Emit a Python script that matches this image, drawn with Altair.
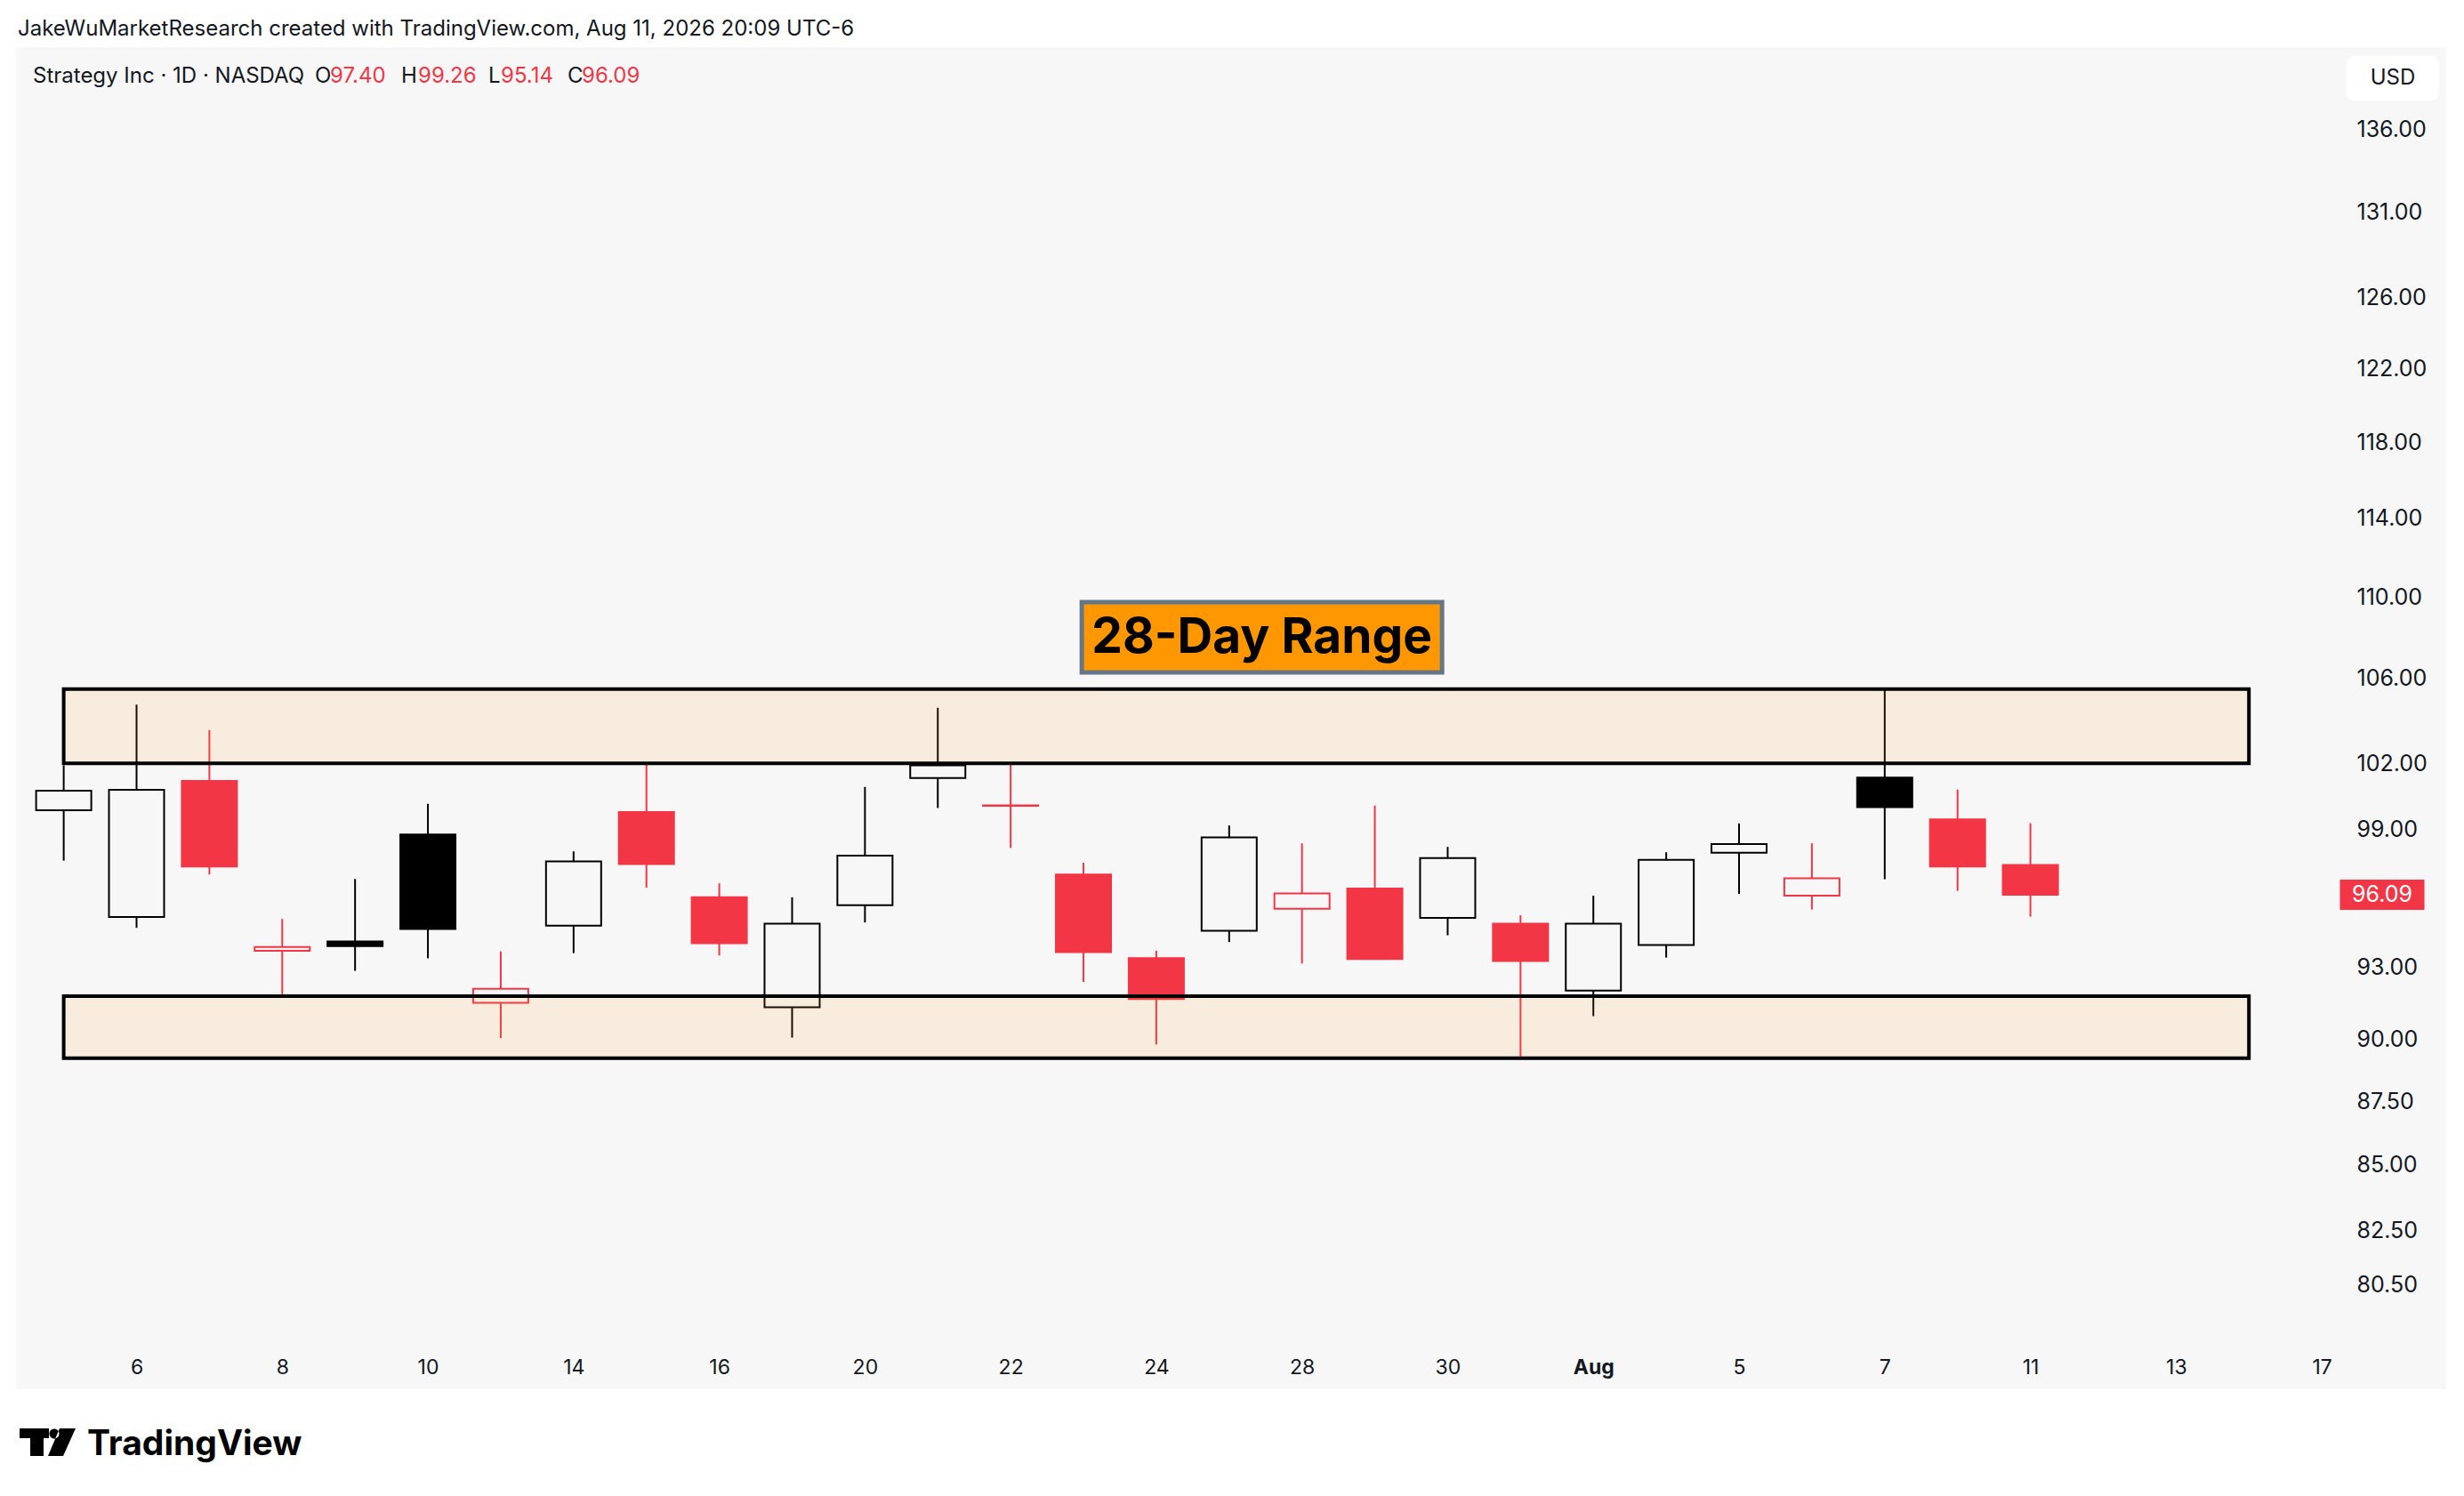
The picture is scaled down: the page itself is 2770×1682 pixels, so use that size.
import json
import altair as alt
import pandas as pd

# ---------------- data ----------------
day_labels = ["3", "6", "7", "8", "9", "10", "13", "14", "15", "16", "17", "20", "21", "22",
              "23", "24", "27", "28", "29", "30", "31", "Aug", "4", "5", "6", "7", "10", "11",
              "12", "13", "14", "17"]
opens = [99.85, 95.13, 101.19, 93.68, 94.08, 98.76, 91.49, 94.75, 99.77, 95.98, 91.31, 95.64,
         101.32, 100.07, 96.98, 93.37, 94.53, 95.48, 96.36, 95.09, 94.84, 92.00, 93.92, 97.94,
         96.05, 101.34, 99.44, 97.40]
highs = [101.90, 104.75, 103.55, 95.04, 96.78, 100.14, 93.65, 98.00, 101.96, 96.59, 95.98, 100.91,
         104.60, 101.96, 97.50, 93.68, 99.16, 98.36, 100.06, 98.20, 95.20, 96.05, 97.96, 99.25,
         98.36, 105.49, 100.79, 99.26]
lows = [97.59, 94.66, 96.98, 91.80, 92.83, 93.36, 90.04, 93.58, 96.40, 93.48, 90.06, 94.89,
        99.95, 98.16, 92.36, 89.78, 94.05, 93.14, 93.30, 94.34, 89.24, 90.94, 93.39, 96.13,
        95.45, 96.77, 96.26, 95.14]
closes = [100.74, 100.78, 97.33, 93.84, 93.88, 94.61, 92.08, 97.56, 97.44, 94.00, 94.84, 97.81,
          101.90, 100.05, 93.62, 91.65, 98.63, 96.15, 93.33, 97.70, 93.24, 94.84, 97.63, 98.33,
          96.81, 99.99, 97.33, 96.09]

x_tick_idx = [1, 3, 5, 7, 9, 11, 13, 15, 17, 19, 21, 23, 25, 27, 29, 31]
y_ticks = [80.5, 82.5, 85, 87.5, 90, 93, 99, 102, 106, 110, 114, 118, 122, 126, 131, 136]

zone_start = [0, 0]
zone_end = [30, 30]
zone_low = [89.22, 102.00]
zone_high = [91.77, 105.49]

title_text = "28-Day Range"
title_pos = [16.45]
title_price = [108.0]

header = "JakeWuMarketResearch created with TradingView.com, Aug 11, 2026 20:09 UTC-6"
symbol_text = "Strategy Inc · 1D · NASDAQ"
ohlc_keys = ["O", "H", "L", "C"]
ohlc_vals = ["97.40", "99.26", "95.14", "96.09"]

# ---------------- styling ----------------
RED = "#F23645"
BLACK = "#000000"
TXT = "#131722"
FONT = "Inter"
W, H = 2617, 1447

df = pd.DataFrame({"i": list(range(len(opens))), "o": opens, "h": highs, "l": lows, "c": closes})
dummy = pd.DataFrame({"a": [0]})

xscale = alt.Scale(domain=[-0.5937, 31.243], nice=False, zero=False)
yscale = alt.Scale(type="log", domain=[78.72, 141.17], nice=False, zero=False)
xaxis = alt.Axis(values=x_tick_idx, labelExpr=json.dumps(day_labels) + "[datum.value]",
                 title=None, grid=False, domain=False, ticks=False, tickSize=0, zindex=2,
                 labelPadding=37, labelBaseline="middle", labelFont=FONT, labelFontSize=23,
                 labelColor=TXT, labelOverlap=False,
                 labelFontWeight={"condition": {"test": "datum.value == 21", "value": "bold"},
                                  "value": "normal"})
yaxis = alt.Axis(values=y_ticks, format=".2f", orient="right", title=None, grid=False,
                 domain=False, ticks=False, tickSize=0, labelPadding=14, labelAlign="left",
                 labelBaseline="middle", labelFont=FONT, labelFontSize=25, labelColor=TXT,
                 labelOverlap=False, zindex=2)


def X(f):
    return alt.X(f, type="quantitative", scale=xscale, axis=xaxis)


def Y(f):
    return alt.Y(f, type="quantitative", scale=yscale, axis=yaxis)


dir_scale = alt.Scale(domain=["up", "down"], range=[BLACK, RED])
fill_scale = alt.Scale(domain=["up", "down", "hollow"], range=[BLACK, RED, "transparent"])

base = (
    alt.Chart(df)
    .transform_window(window=[{"op": "lag", "field": "c", "as": "prev"}], sort=[{"field": "i"}])
    .transform_calculate(
        dir="datum.prev == null || datum.c >= datum.prev ? 'up' : 'down'",
        top="max(datum.o, datum.c)",
        bot="min(datum.o, datum.c)",
    )
    .transform_calculate(fk="datum.c > datum.o ? 'hollow' : datum.dir")
)

panel = alt.Chart(dummy).mark_rect(color="#F7F7F7").encode(
    x=alt.value(0), x2=alt.value(2732), y=alt.value(0), y2=alt.value(1509))

upper_wick = base.mark_rule(strokeWidth=2).encode(
    x=X("i"), y=Y("h"), y2="top:Q",
    stroke=alt.Stroke("dir:N", scale=dir_scale, legend=None))
lower_wick = base.mark_rule(strokeWidth=2).encode(
    x=X("i"), y=Y("bot"), y2="l:Q",
    stroke=alt.Stroke("dir:N", scale=dir_scale, legend=None))
bodies = base.mark_bar(size=62, strokeWidth=2).encode(
    x=X("i"), y=Y("o"), y2="c:Q",
    fill=alt.Fill("fk:N", scale=fill_scale, legend=None),
    stroke=alt.Stroke("dir:N", scale=dir_scale, legend=None))

zdf = pd.DataFrame({"x0": zone_start, "x1": zone_end, "lo": zone_low, "hi": zone_high})
zones = alt.Chart(zdf).mark_rect(fill="#FF9800", fillOpacity=0.1, stroke=BLACK, strokeWidth=4).encode(
    x=X("x0"), x2="x1:Q", y=Y("lo"), y2="hi:Q")

tdf = pd.DataFrame({"x": title_pos, "p": title_price, "t": [title_text]})
title_box = alt.Chart(tdf).mark_point(
    shape="M-1,-0.195L1,-0.195L1,0.195L-1,0.195Z", size=164025, filled=True,
    fill="#FF9800", stroke="#647687", strokeWidth=5, opacity=1).encode(x=X("x"), y=Y("p"))
title_txt = alt.Chart(tdf).mark_text(
    font=FONT, fontSize=55, fontWeight="bold", color=BLACK, align="center",
    baseline="middle").encode(x=X("x"), y=Y("p"), text="t:N")

ldf = pd.DataFrame({"c": [closes[-1]], "t": [f"{closes[-1]:.2f}"]})
last_box = alt.Chart(ldf).mark_point(
    shape="M-1,-0.358L1,-0.358L1,0.358L-1,0.358Z", size=9025, filled=True, fill=RED,
    opacity=1, strokeWidth=0).encode(x=alt.value(2660), y=Y("c"))
last_txt = alt.Chart(ldf).mark_text(
    font=FONT, fontSize=25, color="white", align="center", baseline="middle").encode(
    x=alt.value(2660), y=Y("c"), text="t:N")


def label(text, x, y, size=24, color=TXT, weight="normal", align="left", baseline="alphabetic",
          font=FONT):
    return alt.Chart(dummy).mark_text(
        text=text, font=font, fontSize=size, color=color, fontWeight=weight, align=align,
        baseline=baseline).encode(x=alt.value(x), y=alt.value(y))


texts = [
    label(header, 2, -13, size=24),
    label(symbol_text, 19, 40, size=24),
]
key_x = [336, 433, 531, 620]
val_x = [353, 452, 545, 636]
for k, v, kx, vx in zip(ohlc_keys, ohlc_vals, key_x, val_x):
    texts.append(label(k, kx, 40, size=24))
    texts.append(label(v, vx, 40, size=24, color=RED))

usd_box = alt.Chart(dummy).mark_rect(color="white", cornerRadius=8).encode(
    x=alt.value(2620), x2=alt.value(2724), y=alt.value(10), y2=alt.value(60))
usd_txt = label("USD", 2672, 35, size=24, align="center", baseline="middle")

logo_path = ("M-0.984,-0.484L0.047,-0.484L0.047,-0.141L-0.141,-0.141L-0.141,0.484L-0.609,0.484"
             "L-0.609,-0.141L-0.984,-0.141Z"
             "M0.062,-0.297A0.172,0.172 0 1,0 0.406,-0.297A0.172,0.172 0 1,0 0.062,-0.297Z"
             "M0.422,-0.484L0.984,-0.484L0.547,0.484L0.016,0.484Z")
logo = alt.Chart(dummy).mark_point(shape=logo_path, size=4096, filled=True, fill=BLACK,
                                   opacity=1, strokeWidth=0).encode(
    x=alt.value(35.5), y=alt.value(1568.5))
logo_txt = label("TradingView", 80, 1583, size=39, weight="bold", color=BLACK)

chart = alt.layer(
    panel, upper_wick, lower_wick, bodies, zones, title_box, title_txt, last_box, last_txt,
    usd_box, usd_txt, logo, logo_txt, *texts
).properties(
    width=W, height=H, autosize="none",
    padding={"left": 10, "top": 45, "right": 127, "bottom": 174},
    background="white",
).configure_view(stroke=None)

chart.save("out.html", embed_options={"renderer": "svg", "actions": False})
